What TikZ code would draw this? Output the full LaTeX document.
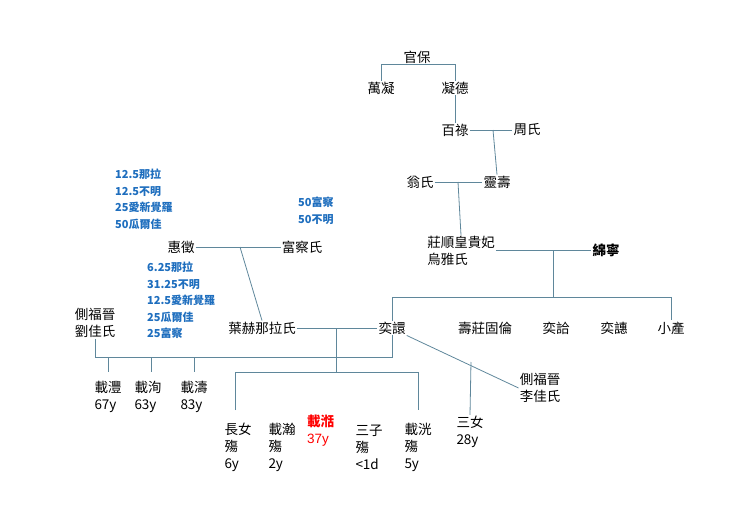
\documentclass[tikz,border=0pt]{standalone}
\usepackage{fontspec}
\setmainfont{Liberation Sans}
\newfontfamily\cjk{Noto Sans CJK TC}
\definecolor{linec}{RGB}{95,135,155}
\definecolor{bluec}{RGB}{30,110,190}
\begin{document}
\begin{tikzpicture}[x=1pt,y=-1pt,
 person/.style={font=\cjk\fontsize{13.5}{17}\selectfont, inner sep=1pt, align=left},
 share/.style={font=\cjk\fontsize{11}{16.5}\selectfont\bfseries, text=bluec, inner sep=0pt, align=left, anchor=north west},
 link/.style={draw=linec, line width=0.8pt},
]
\useasboundingbox (0,0) rectangle (740,525);

%ancestors
\node[person] (guanbao) at (417,57) {官保};
\node[person] (wanning) at (381,88) {萬凝};
\node[person] (ningde) at (455,88) {凝德};
\node[person] (bailu) at (455,130) {百祿};
\node[person] (zhou) at (527,130) {周氏};
\node[person] (weng) at (420,182) {翁氏};
\node[person] (lingshou) at (497,182) {靈壽};
\node[person] (zhuangshun) at (461,251) {莊順皇貴妃\\烏雅氏};
\node[person, font=\cjk\bfseries\fontsize{13.5}{17}\selectfont] (mianning) at (606,250) {綿寧};

\coordinate (c1) at (381,64); \coordinate (c2) at (455,64);
\draw[link] (wanning.north) -- (c1) -- (c2) -- (ningde.north);
\draw[link] (ningde) -- (bailu);
\draw[link] (bailu) -- (zhou);
\draw[link] (493,130) -- (lingshou.north);
\draw[link] (weng) -- (lingshou);
\draw[link] (458,182) -- (zhuangshun.north);
\draw[link] (zhuangshun.east |- mianning) -- (mianning);

%children of the emperor
\node[person] (yixuan) at (392,328) {奕譞};
\node[person] (shouzhuang) at (485,328) {壽莊固倫};
\node[person] (yihe) at (556,328) {奕詥};
\node[person] (yihui) at (614,328) {奕譓};
\node[person] (xiaochan) at (671,328) {小產};
\coordinate (b1) at (392,297); \coordinate (b2) at (671,297);
\draw[link] (553,250) -- (553,297);
\draw[link] (yixuan.north) -- (b1) -- (b2) -- (xiaochan.north);

%wives
\node[person] (huizheng) at (181,247) {惠徵};
\node[person] (fucha) at (302,247) {富察氏};
\node[person] (yehe) at (262,328) {葉赫那拉氏};
\node[person] (liu) at (95,323) {側福晉\\劉佳氏};
\node[person] (li) at (540,388) {側福晉\\李佳氏};
\draw[link] (huizheng) -- (fucha);
\draw[link] (240,247) -- (yehe.north);
\draw[link] (yehe) -- (yixuan);
\draw[link] (yixuan.south east) -- (li.west);

\node[share] (s1) at (115,169) {12.5那拉\\12.5不明\\25愛新覺羅\\50瓜爾佳};
\node[share] (s2) at (298,197) {50富察\\50不明};
\node[share] (s3) at (147,262) {6.25那拉\\31.25不明\\12.5愛新覺羅\\25瓜爾佳\\25富察};

%sons of Liu
\node[person] (zaifeng) at (108,397) {載灃\\67y};
\node[person] (zaixun) at (148,397) {載洵\\63y};
\node[person] (zaitao) at (194,397) {載濤\\83y};
\coordinate (l1) at (95,357);
\draw[link] (liu.south) -- (l1) -- (392,357) -- (yixuan.south);
\foreach \n/\x in {zaifeng/108, zaixun/151, zaitao/194}
  \draw[link] (\x,357) -- (\x,372);

%children of Yehe
\node[person] (changnv) at (238,447) {長女\\殤\\6y};
\node[person] (zaihan) at (282,447) {載瀚\\殤\\2y};
\node[person, text=red, font=\cjk\bfseries\fontsize{13.5}{17}\selectfont, anchor=north west] (zaitian) at (306,414) {載湉\\\normalfont\fontsize{13.5}{17}\selectfont 37y};
\node[person] (sanzi) at (369,447) {三子\\殤\\<1d};
\node[person] (zaihuang) at (418,447) {載洸\\殤\\5y};
\coordinate (k1) at (235,372); \coordinate (k2) at (418,372);
\draw[link] (336,328) -- (336,372);
\draw[link] (235,410) -- (k1) -- (k2) -- (418,410);

%child of Li
\node[person] (sannv) at (470,432) {三女\\28y};
\draw[link] (471,362) -- (sannv.north);
\end{tikzpicture}
\end{document}
